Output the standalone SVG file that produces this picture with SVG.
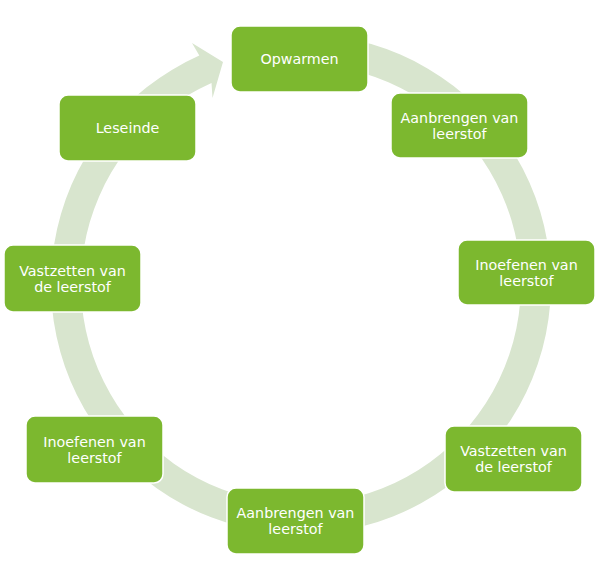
<svg xmlns="http://www.w3.org/2000/svg" width="599" height="571" viewBox="0 0 599 571">
<style>
.node rect{fill:#7CB82F;stroke:#ffffff;stroke-width:1.5}
.node text{fill:#ffffff;font-family:"DejaVu Sans",Verdana,sans-serif;font-size:14.3px;text-anchor:middle}
.ring{fill:#D8E5CE;stroke:none}
</style>
<rect width="599" height="571" fill="#ffffff"/>
<g id="connectors">
<path class="ring" d="M279.21,34.95 A250,250 0 1 1 199.3,55.6 L192,43 L223,62 L212.5,98 L211.5,83 A220,220 0 1 0 281.82,64.84 Z"/>
</g>
<g id="n1" class="node"><rect x="231" y="26" width="137" height="66" rx="9"/><text x="299.5" y="64">Opwarmen</text></g>
<g id="n2" class="node"><rect x="391" y="93" width="137" height="65" rx="9"/><text x="459.5" y="122.5">Aanbrengen van</text><text x="459.5" y="138.5">leerstof</text></g>
<g id="n3" class="node"><rect x="458" y="240" width="137" height="65" rx="9"/><text x="526.5" y="269.5">Inoefenen van</text><text x="526.5" y="285.5">leerstof</text></g>
<g id="n4" class="node"><rect x="445" y="426" width="137" height="66" rx="9"/><text x="513.5" y="456">Vastzetten van</text><text x="513.5" y="472">de leerstof</text></g>
<g id="n5" class="node"><rect x="227" y="488" width="137" height="66" rx="9"/><text x="295.5" y="518">Aanbrengen van</text><text x="295.5" y="534">leerstof</text></g>
<g id="n6" class="node"><rect x="26" y="416" width="137" height="67" rx="9"/><text x="94.5" y="446.5">Inoefenen van</text><text x="94.5" y="462.5">leerstof</text></g>
<g id="n7" class="node"><rect x="4" y="245" width="137" height="67" rx="9"/><text x="72.5" y="275.5">Vastzetten van</text><text x="72.5" y="291.5">de leerstof</text></g>
<g id="n8" class="node"><rect x="59" y="95" width="137" height="66" rx="9"/><text x="127.5" y="133">Leseinde</text></g>
</svg>
